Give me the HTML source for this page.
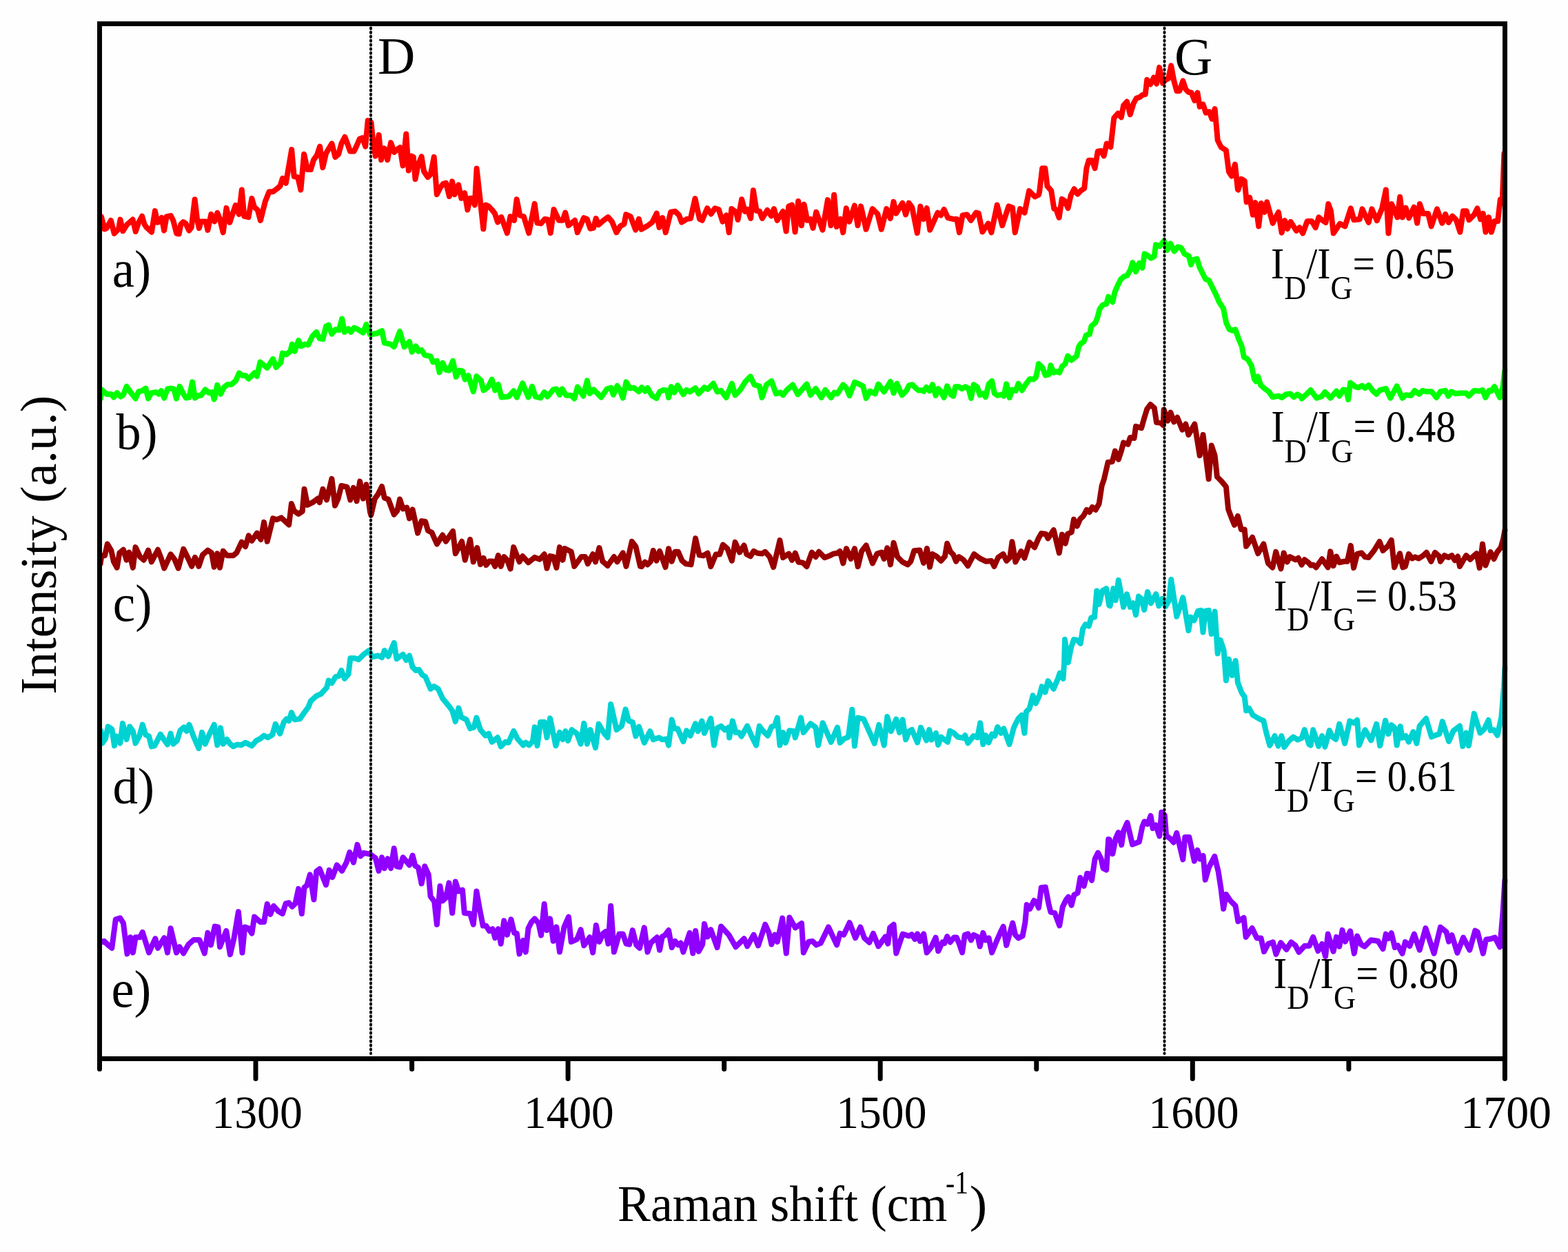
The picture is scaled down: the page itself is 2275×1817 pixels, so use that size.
<!DOCTYPE html>
<html><head><meta charset="utf-8"><style>html,body{margin:0;padding:0;background:#fefefe;}svg{display:block;}</style></head>
<body><svg width="2275" height="1817" viewBox="0 0 2275 1817">
<rect x="0" y="0" width="2275" height="1817" fill="#fefefe"/>
<path d="M145.6,332.5 L147.0,314.5 L151.8,332.5 L154.6,331.2 L160.9,320.0 L165.7,338.8 L172.0,332.5 L174.5,318.6 L178.3,335.3 L184.5,325.6 L188.0,322.8 L192.6,318.6 L196.8,336.0 L201.2,322.8 L206.1,313.8 L209.6,325.6 L212.4,329.8 L220.0,336.7 L224.9,306.1 L228.4,322.8 L231.8,321.4 L234.6,315.8 L238.1,334.6 L241.6,314.5 L247.8,313.1 L251.3,320.0 L256.2,338.8 L259.7,339.5 L262.4,325.6 L265.9,322.1 L269.4,324.2 L274.3,334.6 L277.8,329.8 L282.6,289.4 L286.1,318.6 L288.9,331.2 L291.7,321.4 L298.6,321.4 L301.4,333.9 L306.3,311.0 L311.2,321.4 L315.3,308.9 L318.8,317.2 L323.7,337.4 L328.5,301.9 L333.4,322.8 L337.6,310.3 L341.8,297.8 L346.6,311.0 L350.8,275.5 L354.3,313.8 L360.5,315.1 L365.4,288.0 L368.9,300.5 L373.8,304.7 L377.9,320.0 L384.9,292.2 L390.5,278.3 L396.0,278.3 L401.6,274.1 L406.5,269.9 L409.9,258.8 L414.8,265.8 L423.2,217.1 L426.6,256.0 L432.2,257.4 L436.4,275.5 L441.1,223.7 L446.0,246.0 L450.9,246.0 L455.0,232.1 L459.9,225.1 L464.1,212.6 L468.3,243.2 L473.1,222.4 L477.3,215.4 L481.5,208.4 L486.4,227.9 L491.2,223.7 L495.4,208.4 L500.3,198.7 L505.1,211.2 L507.9,219.6 L513.5,219.6 L517.0,212.6 L521.8,201.5 L526.0,200.1 L530.2,212.6 L533.7,175.0 L538.5,177.8 L541.3,205.7 L544.8,226.5 L549.7,195.9 L553.1,232.1 L557.3,215.4 L559.4,216.8 L562.2,232.1 L567.1,207.1 L571.9,221.0 L576.1,216.8 L580.3,214.0 L584.5,240.4 L589.3,194.5 L592.8,247.4 L597.0,226.5 L599.8,227.9 L602.5,259.9 L606.7,239.1 L611.6,227.2 L615.1,248.8 L620.6,257.1 L624.8,253.0 L629.7,227.9 L633.8,282.2 L638.7,272.4 L642.9,266.9 L647.1,265.5 L651.9,285.0 L656.1,263.4 L659.6,282.2 L665.2,268.3 L669.3,287.8 L674.2,280.1 L678.4,304.5 L681.9,287.8 L684.6,287.8 L688.8,297.5 L691.6,244.6 L695.8,282.2 L701.3,332.3 L704.8,297.5 L708.3,298.9 L713.9,304.5 L718.0,310.0 L722.2,322.5 L726.4,315.6 L727.4,315.1 L735.8,338.3 L740.4,314.2 L746.0,319.8 L749.7,289.2 L754.3,312.4 L759.9,314.2 L767.3,338.3 L775.7,295.7 L779.4,323.5 L784.9,324.4 L790.5,317.9 L795.1,318.8 L798.8,338.3 L803.5,304.0 L810.9,319.8 L816.5,319.8 L820.2,308.6 L824.8,327.2 L834.1,319.8 L837.8,337.4 L847.1,316.1 L851.7,317.9 L856.4,331.8 L861.0,330.9 L864.7,317.0 L868.4,326.3 L875.8,319.8 L882.3,315.1 L887.9,321.6 L894.4,337.4 L900.0,328.1 L905.5,325.3 L908.3,311.4 L914.8,314.2 L922.2,333.7 L926.9,317.9 L930.6,332.8 L938.9,328.1 L946.3,322.6 L952.8,309.6 L956.5,330.0 L961.2,316.1 L965.8,337.4 L973.2,307.7 L979.7,306.8 L985.3,312.4 L989.0,322.6 L996.4,317.9 L1002.0,317.0 L1008.5,288.2 L1015.0,317.9 L1018.7,319.8 L1026.1,302.2 L1031.7,310.5 L1037.3,302.2 L1042.8,304.0 L1048.4,321.6 L1054.0,312.4 L1057.7,337.4 L1061.4,303.1 L1067.9,307.7 L1070.6,318.8 L1076.2,289.2 L1080.9,306.8 L1084.6,304.0 L1089.2,317.0 L1092.9,276.2 L1097.6,305.9 L1102.2,306.8 L1105.9,317.0 L1113.3,304.9 L1118.9,313.3 L1123.0,303.1 L1127.6,319.8 L1136.0,306.8 L1140.6,335.5 L1144.3,299.4 L1149.0,297.5 L1153.6,336.5 L1158.2,291.9 L1162.9,327.2 L1166.6,296.6 L1171.2,319.8 L1175.9,317.9 L1179.6,330.9 L1184.2,307.7 L1193.5,333.7 L1200.9,290.1 L1205.5,327.2 L1210.2,282.7 L1213.9,329.1 L1219.5,317.9 L1223.2,337.4 L1227.8,302.2 L1232.4,321.6 L1239.9,298.4 L1244.5,327.2 L1249.1,299.4 L1256.6,332.8 L1265.8,303.1 L1273.3,310.5 L1278.8,332.8 L1286.3,303.1 L1291.8,317.0 L1296.5,292.9 L1300.2,309.6 L1309.4,294.7 L1314.1,311.4 L1318.7,294.7 L1323.4,301.2 L1330.8,338.3 L1335.4,299.4 L1340.1,317.9 L1344.7,302.2 L1349.3,333.7 L1360.5,308.6 L1365.1,312.4 L1369.7,304.0 L1375.3,316.1 L1382.7,317.9 L1388.3,317.9 L1392.0,337.4 L1396.6,312.4 L1403.1,311.4 L1408.7,319.8 L1416.1,308.6 L1419.8,309.6 L1425.4,336.5 L1433.7,324.4 L1438.4,337.4 L1446.7,297.5 L1454.2,327.2 L1463.4,299.4 L1469.0,301.2 L1472.7,337.4 L1480.1,303.1 L1486.6,308.6 L1493.1,277.1 L1501.5,285.5 L1507.0,282.7 L1508.1,278.4 L1512.2,244.2 L1516.3,244.2 L1519.5,270.2 L1525.2,276.7 L1529.3,302.8 L1532.5,304.4 L1536.6,315.8 L1540.7,288.9 L1544.7,291.4 L1549.6,302.0 L1553.7,283.3 L1558.5,274.3 L1563.4,281.6 L1568.3,276.7 L1573.2,273.5 L1576.4,244.2 L1579.7,232.8 L1584.6,232.8 L1588.6,244.2 L1592.7,219.8 L1597.6,219.0 L1601.6,226.3 L1605.7,208.5 L1611.4,213.3 L1616.3,171.1 L1622.0,164.6 L1626.8,170.2 L1630.1,153.2 L1635.0,147.5 L1639.8,166.2 L1644.7,149.9 L1648.8,142.6 L1653.7,141.0 L1657.7,137.7 L1661.8,136.9 L1664.2,115.8 L1669.1,122.3 L1674.0,112.5 L1678.0,121.5 L1682.1,97.9 L1687.0,120.7 L1691.1,115.8 L1695.1,114.1 L1699.2,95.4 L1703.3,117.4 L1707.3,132.0 L1711.4,132.0 L1716.3,117.4 L1720.3,129.6 L1724.4,133.7 L1728.5,134.5 L1733.3,145.9 L1737.4,134.5 L1740.7,154.8 L1745.5,151.5 L1749.6,163.7 L1754.5,162.1 L1758.5,172.7 L1762.6,158.0 L1766.7,203.6 L1771.5,213.3 L1778.9,218.2 L1782.9,249.1 L1787.0,255.6 L1791.9,238.5 L1795.9,275.1 L1796.5,275.5 L1801.1,259.8 L1805.8,262.6 L1808.6,293.2 L1813.2,286.7 L1817.8,311.7 L1821.5,294.1 L1826.2,328.4 L1829.9,295.0 L1834.5,308.0 L1838.2,293.2 L1846.6,323.8 L1854.9,308.0 L1859.6,337.7 L1864.2,320.1 L1867.9,332.1 L1872.6,321.9 L1880.9,334.9 L1885.5,330.3 L1890.2,338.6 L1896.7,321.0 L1903.2,321.0 L1908.7,330.3 L1913.4,315.4 L1918.0,319.1 L1923.6,322.9 L1927.3,296.0 L1931.0,306.2 L1934.7,338.6 L1944.0,324.7 L1951.4,328.4 L1959.8,302.4 L1964.4,319.1 L1972.7,318.2 L1976.5,303.4 L1985.7,322.9 L1990.4,303.4 L1997.8,320.1 L2005.2,302.4 L2010.8,275.5 L2014.5,338.6 L2019.1,296.0 L2027.5,315.4 L2031.2,285.8 L2034.9,315.4 L2039.5,301.5 L2044.2,316.4 L2051.6,300.6 L2056.2,323.8 L2059.9,296.0 L2064.6,309.9 L2072.0,309.9 L2076.6,328.4 L2085.0,303.4 L2092.4,323.8 L2097.1,310.8 L2101.7,322.9 L2107.3,313.6 L2112.8,319.1 L2118.4,336.8 L2123.0,306.2 L2127.7,306.2 L2131.4,319.1 L2138.8,311.7 L2143.4,302.4 L2148.1,318.2 L2151.8,309.9 L2155.5,336.8 L2160.1,315.4 L2163.8,336.8 L2168.5,321.0 L2173.1,321.0 L2176.8,289.5 L2179.6,295.0 L2182.4,222.7" fill="none" stroke="#ff0000" stroke-width="8.0" stroke-linejoin="round" stroke-linecap="round"/>
<path d="M145.9,578.4 L147.4,565.4 L154.8,571.9 L161.3,571.9 L165.0,576.6 L169.7,570.1 L175.3,575.6 L179.0,572.9 L183.6,560.8 L190.1,570.1 L196.6,578.4 L201.2,568.2 L205.9,567.3 L211.4,563.6 L215.1,578.4 L219.8,570.1 L226.3,569.1 L230.0,571.9 L233.7,567.3 L238.3,577.5 L243.0,564.5 L247.6,563.6 L252.2,564.5 L256.0,578.4 L260.6,560.8 L266.2,571.9 L269.9,577.5 L274.5,576.6 L279.1,554.3 L282.9,577.5 L288.4,573.8 L292.1,573.8 L297.7,565.4 L303.3,570.1 L307.9,569.1 L310.7,579.4 L315.3,558.9 L320.0,571.9 L325.5,561.7 L330.2,558.0 L335.7,558.0 L342.2,552.4 L346.9,541.3 L351.5,545.0 L356.1,545.0 L360.8,549.7 L369.1,541.3 L372.8,546.0 L377.5,525.5 L383.0,530.2 L387.7,533.9 L396.0,520.9 L400.7,533.0 L407.2,526.5 L409.9,512.6 L415.5,514.4 L421.1,509.8 L423.9,499.6 L427.6,509.8 L433.1,494.0 L436.8,502.4 L442.4,499.6 L447.1,500.5 L453.5,487.5 L459.1,481.9 L463.7,491.2 L468.4,492.2 L473.0,473.6 L476.7,471.7 L481.4,484.7 L486.9,478.2 L491.6,479.2 L496.2,462.5 L499.9,481.9 L505.5,477.3 L509.2,481.9 L513.8,475.5 L519.4,478.2 L526.8,482.9 L531.5,470.8 L537.0,485.7 L546.7,483.8 L554.1,480.1 L557.8,497.7 L567.1,499.6 L571.7,503.3 L580.1,481.0 L586.6,503.3 L594.0,495.9 L597.7,510.7 L603.3,502.4 L607.0,509.8 L611.6,507.9 L616.3,515.3 L624.6,517.2 L628.3,525.5 L633.9,523.7 L637.6,540.4 L642.2,526.5 L646.9,536.7 L651.5,537.6 L657.1,523.7 L661.7,546.9 L666.4,537.6 L671.0,538.5 L674.7,550.6 L679.4,545.0 L686.8,568.2 L691.4,546.0 L697.9,552.4 L701.6,566.4 L708.1,561.7 L713.7,550.6 L718.3,566.4 L722.9,558.0 L727.6,576.6 L737.8,575.6 L745.2,567.3 L749.9,576.6 L758.2,556.2 L766.5,576.6 L772.1,560.8 L776.8,575.6 L784.2,577.5 L789.7,569.1 L794.4,575.6 L802.7,565.4 L807.4,564.5 L812.0,572.9 L815.7,564.5 L821.3,573.8 L828.7,573.8 L833.3,578.4 L838.0,561.7 L846.3,574.7 L851.9,552.4 L855.6,571.0 L861.2,565.4 L872.3,576.6 L880.6,564.5 L886.2,562.7 L889.9,572.9 L895.5,559.9 L899.2,565.4 L903.8,577.5 L908.5,554.3 L914.0,563.6 L919.6,562.7 L927.0,568.2 L931.1,562.2 L935.8,567.7 L939.5,563.1 L946.0,574.2 L952.5,577.9 L957.1,568.6 L962.7,565.9 L968.2,566.8 L970.1,577.0 L973.8,561.2 L978.4,569.6 L983.1,559.4 L991.4,572.4 L996.1,565.9 L1000.7,568.6 L1009.1,563.1 L1013.7,571.4 L1022.0,562.2 L1026.7,564.9 L1035.0,556.6 L1040.6,568.6 L1046.2,566.8 L1053.6,577.0 L1061.9,556.6 L1066.6,573.3 L1074.0,565.9 L1081.4,553.8 L1088.8,546.4 L1094.4,558.4 L1101.8,560.3 L1105.5,577.0 L1112.0,558.4 L1119.4,552.9 L1125.9,571.4 L1132.4,569.6 L1136.1,573.3 L1141.7,565.9 L1150.1,558.4 L1157.5,572.4 L1170.5,557.5 L1176.0,573.3 L1183.5,564.0 L1191.8,577.0 L1197.4,565.9 L1205.7,577.0 L1210.4,569.6 L1215.0,571.4 L1223.3,558.4 L1228.0,563.1 L1232.6,574.2 L1240.0,554.7 L1246.5,557.5 L1252.1,560.3 L1256.7,577.9 L1262.3,567.7 L1269.7,571.4 L1274.4,557.5 L1282.7,568.6 L1292.0,553.8 L1296.6,570.5 L1301.3,556.6 L1308.7,573.3 L1315.2,566.8 L1318.9,559.4 L1323.6,558.2 L1328.9,563.5 L1332.6,566.5 L1337.9,566.5 L1340.2,568.0 L1344.0,561.9 L1348.5,567.2 L1353.0,558.2 L1357.6,574.0 L1361.3,564.2 L1365.1,568.0 L1369.6,577.0 L1374.2,560.4 L1379.5,572.5 L1383.2,574.8 L1386.2,561.2 L1390.8,561.2 L1395.3,564.2 L1400.6,561.2 L1405.1,563.5 L1408.9,577.8 L1412.7,558.2 L1418.0,561.9 L1421.7,573.3 L1426.3,571.0 L1430.0,576.3 L1434.6,557.4 L1439.1,552.9 L1442.9,571.0 L1447.4,574.0 L1452.7,572.5 L1456.5,574.8 L1460.2,557.4 L1464.8,577.0 L1468.5,565.7 L1473.8,567.2 L1477.6,556.7 L1482.9,566.5 L1487.4,558.9 L1494.2,549.9 L1499.5,550.6 L1503.3,546.8 L1507.0,528.0 L1512.3,533.3 L1516.8,544.6 L1522.1,543.1 L1524.4,530.2 L1528.9,540.8 L1533.5,539.3 L1537.2,540.8 L1541.0,531.7 L1545.5,528.0 L1549.3,516.6 L1554.6,522.7 L1562.1,516.6 L1565.2,503.1 L1568.2,498.5 L1572.7,495.5 L1575.7,486.5 L1581.0,484.9 L1583.3,473.6 L1589.3,468.3 L1592.3,460.8 L1595.4,448.7 L1599.9,442.7 L1605.2,441.2 L1608.2,430.6 L1608.8,431.9 L1614.3,438.2 L1617.4,424.1 L1621.4,414.7 L1626.1,405.3 L1630.8,401.4 L1635.5,399.8 L1640.2,391.2 L1643.3,381.0 L1648.0,394.3 L1652.7,381.8 L1657.4,388.8 L1660.6,368.4 L1665.3,370.8 L1670.0,374.7 L1674.7,372.3 L1677.0,355.1 L1682.5,357.4 L1688.8,349.6 L1693.5,362.9 L1698.2,353.5 L1703.7,364.5 L1709.2,358.2 L1713.9,359.8 L1718.6,368.4 L1724.9,371.6 L1728.0,384.1 L1731.1,377.0 L1736.6,375.5 L1740.5,388.0 L1746.0,399.0 L1749.2,405.3 L1753.9,406.8 L1759.4,417.8 L1764.1,427.2 L1768.8,438.2 L1775.0,447.6 L1779.0,468.0 L1783.7,478.2 L1788.4,479.8 L1792.3,478.2 L1797.0,491.5 L1801.7,502.5 L1804.8,518.2 L1810.3,521.3 L1815.8,530.7 L1819.7,549.6 L1822.1,553.5 L1825.2,546.4 L1829.2,559.0 L1834.6,563.7 L1840.9,568.4 L1846.4,576.2 L1855.0,574.6 L1859.7,577.0 L1866.0,572.3 L1872.3,571.5 L1877.0,576.2 L1882.5,572.3 L1888.0,576.2 L1888.6,578.4 L1894.4,573.3 L1901.6,566.1 L1910.2,577.6 L1917.4,575.5 L1922.4,569.0 L1930.3,577.6 L1939.0,567.6 L1943.3,574.8 L1949.0,565.4 L1953.3,566.1 L1956.2,579.8 L1959.1,555.4 L1966.3,561.1 L1970.6,562.5 L1976.3,559.7 L1980.6,563.3 L1985.7,559.0 L1992.2,567.6 L1997.2,571.9 L2002.2,566.1 L2010.8,564.0 L2017.3,577.6 L2026.7,560.4 L2034.6,577.6 L2039.6,573.3 L2047.5,574.0 L2052.5,566.9 L2059.0,571.9 L2064.0,566.9 L2069.8,568.3 L2077.0,568.3 L2084.2,576.9 L2089.9,568.3 L2097.1,566.9 L2101.4,574.8 L2105.7,568.3 L2111.5,571.2 L2118.7,570.5 L2127.3,570.5 L2130.9,574.8 L2138.8,566.9 L2146.0,567.6 L2151.0,566.1 L2155.3,576.9 L2160.4,566.9 L2163.3,567.6 L2168.3,561.1 L2176.2,576.9 L2180.5,561.8 L2183.4,537.4" fill="none" stroke="#00ff00" stroke-width="8.0" stroke-linejoin="round" stroke-linecap="round"/>
<path d="M145.6,818.2 L147.4,806.2 L152.1,806.2 L155.8,789.5 L161.3,798.7 L165.0,815.4 L169.7,823.8 L173.4,802.4 L179.0,797.8 L183.6,812.7 L187.3,801.5 L192.9,823.8 L196.6,794.1 L203.1,808.0 L208.6,812.7 L215.1,798.7 L219.8,815.4 L229.1,797.8 L233.7,809.9 L238.3,824.7 L247.6,804.3 L253.2,811.7 L258.7,824.7 L266.2,796.9 L272.7,809.9 L278.2,821.9 L282.9,808.9 L288.4,821.9 L294.0,805.2 L301.4,798.7 L307.0,802.4 L310.7,822.9 L315.3,803.4 L319.0,823.8 L323.7,799.7 L329.2,806.2 L338.5,806.2 L343.2,802.4 L350.6,786.7 L356.1,793.2 L360.8,777.4 L365.4,784.8 L372.8,773.7 L378.4,783.0 L383.0,757.9 L387.7,785.8 L396.0,752.4 L401.6,754.2 L408.1,751.4 L419.2,761.6 L422.9,731.0 L426.6,741.2 L433.1,745.9 L438.7,742.2 L441.5,709.7 L446.1,732.9 L453.5,729.2 L461.0,723.6 L463.7,729.2 L468.4,709.7 L474.0,725.5 L481.4,694.8 L486.0,733.8 L490.6,723.6 L495.3,705.0 L503.6,706.9 L508.3,725.5 L512.9,707.8 L517.6,727.3 L522.2,698.6 L526.8,723.6 L531.5,703.2 L537.0,743.1 L538.3,747.7 L543.9,723.6 L548.6,717.1 L554.1,706.0 L557.8,722.7 L563.4,724.5 L571.7,746.8 L576.4,741.2 L580.1,724.5 L584.7,738.4 L590.3,736.6 L594.0,752.4 L598.6,739.4 L606.1,773.7 L611.6,756.1 L617.2,757.0 L620.9,770.0 L626.5,772.8 L633.9,789.5 L642.2,776.5 L646.9,785.8 L657.1,770.9 L660.8,803.4 L670.1,785.8 L674.7,812.7 L682.1,783.0 L686.8,815.4 L692.3,795.0 L697.0,819.1 L701.6,809.9 L705.3,820.1 L710.0,814.5 L714.6,814.5 L718.3,821.9 L722.9,806.2 L726.7,821.9 L731.3,808.0 L735.9,812.7 L740.6,825.6 L745.2,794.1 L753.6,815.4 L758.2,807.1 L766.5,816.4 L775.8,808.9 L783.2,811.7 L789.7,804.3 L793.5,824.7 L798.1,807.1 L802.7,808.0 L807.4,823.8 L812.0,794.1 L816.6,812.7 L819.4,796.0 L828.7,800.6 L833.3,821.9 L843.5,808.0 L849.1,808.0 L852.8,818.2 L860.2,804.3 L864.0,815.4 L869.5,795.0 L874.2,814.5 L881.6,821.0 L890.9,808.0 L895.5,815.4 L903.8,802.4 L908.5,821.9 L916.8,785.8 L922.4,793.2 L928.9,821.9 L931.1,822.2 L935.8,815.7 L939.5,819.4 L944.1,814.7 L947.8,799.0 L952.5,813.8 L957.1,799.9 L965.5,823.1 L970.1,796.2 L974.7,814.7 L979.4,800.8 L984.0,800.8 L989.6,813.8 L995.1,818.4 L1002.6,819.4 L1009.1,781.3 L1014.6,805.5 L1020.2,806.4 L1026.7,802.7 L1031.3,822.2 L1038.7,804.5 L1044.3,804.5 L1048.9,790.6 L1055.4,796.2 L1061.9,813.8 L1066.6,786.9 L1073.1,801.7 L1079.6,791.5 L1083.3,804.5 L1088.8,807.3 L1093.5,799.9 L1099.0,802.7 L1105.5,803.6 L1110.2,800.8 L1116.7,808.2 L1122.2,823.1 L1131.5,784.1 L1136.1,809.2 L1144.5,803.6 L1149.1,812.9 L1153.8,802.7 L1158.4,815.7 L1164.9,816.6 L1170.5,822.2 L1177.9,801.7 L1183.5,808.2 L1188.1,800.8 L1196.4,809.2 L1203.9,806.4 L1209.4,803.6 L1215.0,802.7 L1218.7,799.9 L1223.3,817.5 L1228.0,796.2 L1234.5,811.0 L1240.0,796.2 L1244.7,822.2 L1250.2,799.9 L1256.7,791.5 L1266.0,817.5 L1272.5,803.6 L1279.0,801.7 L1282.7,811.0 L1287.3,795.3 L1292.0,819.4 L1296.6,787.8 L1302.2,808.2 L1309.6,815.7 L1317.0,819.4 L1321.4,814.7 L1326.3,799.3 L1334.4,798.5 L1340.1,817.2 L1345.0,796.0 L1349.0,822.8 L1353.1,804.1 L1358.8,807.4 L1365.3,813.9 L1371.0,807.4 L1374.2,788.7 L1379.1,800.9 L1383.2,805.0 L1387.2,814.7 L1391.3,808.2 L1397.8,812.3 L1404.3,821.2 L1413.3,804.1 L1422.2,810.7 L1430.3,814.7 L1438.5,813.9 L1442.5,822.0 L1448.2,809.0 L1455.5,804.1 L1460.4,813.9 L1465.3,809.0 L1468.5,786.3 L1473.4,815.5 L1481.5,800.1 L1486.4,809.8 L1493.7,787.1 L1501.1,794.4 L1506.7,781.4 L1510.8,774.1 L1517.3,774.9 L1520.6,781.4 L1528.7,769.2 L1536.8,802.5 L1540.9,775.7 L1545.8,788.7 L1549.0,774.9 L1554.7,772.4 L1558.0,753.7 L1562.8,763.5 L1566.9,753.7 L1571.8,748.9 L1576.7,739.9 L1580.7,743.2 L1584.8,735.9 L1589.7,739.9 L1594.6,731.0 L1598.6,705.0 L1601.9,695.2 L1607.6,670.8 L1608.1,670.8 L1613.8,670.0 L1617.9,654.6 L1622.8,666.7 L1626.8,654.6 L1630.1,642.4 L1636.6,644.8 L1639.8,635.0 L1645.5,635.9 L1648.0,618.8 L1656.1,621.2 L1660.2,606.6 L1664.2,593.6 L1669.1,587.1 L1674.8,592.0 L1678.0,613.1 L1684.6,613.9 L1687.8,617.2 L1688.6,594.4 L1694.3,610.7 L1698.4,598.5 L1703.3,612.3 L1708.1,605.8 L1715.4,623.7 L1720.3,615.5 L1724.4,631.0 L1733.3,615.5 L1740.7,661.1 L1745.5,631.0 L1753.7,695.2 L1757.7,646.4 L1762.6,661.1 L1765.9,692.0 L1772.4,698.5 L1778.9,706.6 L1782.1,739.1 L1787.0,752.1 L1791.1,761.9 L1795.9,748.9 L1800.8,768.4 L1805.7,768.4 L1808.1,792.8 L1817.1,779.8 L1825.2,803.3 L1833.3,789.5 L1839.8,817.2 L1846.3,823.7 L1851.2,800.9 L1858.5,825.3 L1862.6,802.5 L1867.5,815.5 L1871.5,808.2 L1879.7,812.3 L1883.7,809.8 L1888.6,819.6 L1892.7,812.3 L1899.2,817.2 L1901.6,820.5 L1905.2,819.8 L1909.5,823.4 L1918.1,811.2 L1926.7,823.4 L1930.3,800.4 L1934.6,821.2 L1939.0,807.6 L1943.3,816.2 L1950.5,814.8 L1954.8,814.8 L1959.8,791.8 L1964.1,824.1 L1969.1,804.0 L1975.6,802.5 L1980.6,808.3 L1985.7,809.0 L1993.6,799.0 L2001.5,786.0 L2006.5,799.0 L2013.7,792.5 L2018.8,783.9 L2023.1,823.4 L2031.0,803.3 L2035.3,823.4 L2038.9,822.0 L2043.9,804.0 L2048.9,810.5 L2053.3,808.3 L2058.3,810.5 L2064.0,806.9 L2069.8,801.8 L2076.3,814.8 L2082.0,801.8 L2087.8,806.9 L2089.9,814.8 L2095.7,806.1 L2101.4,809.0 L2106.5,806.1 L2110.8,813.3 L2115.1,807.6 L2118.0,822.0 L2127.3,806.1 L2133.1,811.9 L2137.4,807.6 L2142.4,803.3 L2146.7,824.1 L2151.0,789.6 L2155.3,820.5 L2162.5,801.1 L2167.6,811.2 L2171.9,801.8 L2177.6,794.6 L2181.2,781.7 L2183.4,769.5" fill="none" stroke="#990000" stroke-width="8.0" stroke-linejoin="round" stroke-linecap="round"/>
<path d="M145.6,1079.6 L146.5,1061.0 L148.3,1078.6 L153.0,1072.1 L156.7,1054.5 L162.3,1058.2 L166.0,1082.3 L168.8,1068.4 L171.5,1069.4 L174.3,1078.6 L178.0,1049.9 L183.6,1073.1 L188.2,1054.5 L192.9,1061.0 L196.6,1078.6 L202.2,1068.4 L206.8,1051.7 L211.4,1066.6 L216.1,1068.4 L219.8,1083.3 L224.4,1082.3 L232.8,1065.6 L238.3,1074.0 L243.0,1080.5 L247.6,1064.7 L251.3,1079.6 L256.9,1074.9 L261.5,1060.1 L267.1,1055.4 L270.8,1061.0 L274.5,1051.7 L281.0,1069.4 L288.4,1086.0 L293.1,1062.9 L297.7,1079.6 L303.3,1066.6 L310.7,1051.7 L315.3,1081.4 L320.0,1056.4 L323.7,1079.6 L329.2,1073.1 L333.9,1079.6 L338.5,1083.3 L344.1,1080.5 L349.6,1081.4 L356.1,1077.7 L365.4,1082.3 L371.9,1074.9 L377.5,1072.1 L383.0,1067.5 L388.6,1070.3 L395.1,1066.6 L399.7,1050.8 L406.2,1064.7 L411.8,1048.0 L415.5,1043.4 L419.2,1046.2 L422.9,1034.1 L427.6,1044.3 L435.0,1043.4 L441.5,1034.1 L447.1,1026.7 L450.8,1017.4 L459.1,1010.0 L465.6,1007.2 L474.0,997.9 L476.7,987.7 L481.4,991.4 L486.9,982.2 L491.6,981.2 L495.3,972.9 L499.9,984.9 L505.5,978.4 L508.3,955.3 L514.8,955.3 L520.3,957.1 L527.8,949.7 L535.2,944.1 L540.2,953.4 L548.6,951.5 L554.1,954.3 L557.8,944.1 L563.4,952.5 L571.7,933.0 L575.5,956.2 L584.7,949.7 L589.4,958.0 L594.0,951.5 L598.6,968.2 L603.3,972.9 L607.9,971.9 L612.6,979.4 L617.2,982.2 L624.6,999.8 L629.3,996.1 L635.8,999.8 L642.2,1013.7 L650.6,1023.9 L656.2,1031.3 L660.8,1047.1 L665.4,1027.6 L669.1,1040.6 L676.6,1044.3 L682.1,1057.3 L687.7,1055.4 L691.4,1041.5 L697.0,1059.1 L704.4,1067.5 L709.0,1064.7 L713.7,1076.8 L722.0,1070.3 L726.7,1083.3 L733.2,1076.8 L737.8,1077.7 L745.2,1061.0 L750.8,1072.1 L759.1,1081.4 L762.8,1077.7 L767.5,1081.4 L773.0,1075.8 L775.8,1055.4 L779.5,1082.3 L784.2,1048.0 L789.7,1048.0 L793.5,1070.3 L798.1,1042.4 L806.4,1082.3 L812.0,1062.9 L816.6,1073.1 L820.4,1061.0 L824.1,1074.9 L829.6,1059.1 L837.1,1064.7 L842.6,1079.6 L847.3,1049.9 L851.9,1079.6 L856.5,1059.1 L864.0,1085.1 L868.6,1050.8 L876.9,1064.7 L881.6,1070.3 L886.2,1022.0 L894.6,1059.1 L902.0,1053.6 L907.6,1029.5 L912.2,1046.2 L917.8,1048.0 L922.4,1068.4 L927.0,1054.5 L934.8,1077.9 L943.2,1061.2 L947.8,1073.3 L956.2,1070.5 L960.8,1073.3 L967.3,1072.4 L970.1,1081.6 L974.7,1044.5 L978.4,1057.5 L983.1,1057.5 L991.4,1076.1 L996.1,1060.3 L1001.6,1067.7 L1009.1,1050.1 L1012.8,1061.2 L1018.3,1046.4 L1022.0,1064.0 L1031.3,1042.7 L1036.0,1081.6 L1040.6,1056.6 L1046.2,1053.8 L1051.7,1059.4 L1057.3,1055.7 L1058.2,1070.5 L1062.9,1046.4 L1067.5,1063.1 L1072.1,1063.1 L1075.8,1068.6 L1084.2,1053.8 L1090.7,1068.6 L1097.2,1081.6 L1101.8,1053.8 L1107.4,1061.2 L1113.9,1067.7 L1119.4,1054.7 L1124.1,1052.9 L1127.8,1041.7 L1131.5,1081.6 L1136.1,1063.1 L1139.9,1077.9 L1145.4,1060.3 L1151.9,1061.2 L1153.8,1070.5 L1162.1,1041.7 L1165.8,1063.1 L1176.0,1050.1 L1183.5,1055.7 L1187.2,1081.6 L1193.7,1049.2 L1205.7,1077.0 L1215.0,1055.7 L1218.7,1077.9 L1224.3,1072.4 L1230.8,1069.6 L1236.3,1029.7 L1240.0,1082.6 L1244.7,1041.7 L1253.0,1043.6 L1261.4,1062.2 L1268.8,1078.8 L1275.3,1051.9 L1282.7,1081.6 L1287.3,1039.9 L1292.9,1061.2 L1300.3,1043.6 L1305.0,1063.1 L1309.6,1044.5 L1314.2,1073.3 L1318.9,1061.2 L1323.0,1059.0 L1331.1,1077.7 L1336.0,1055.8 L1344.1,1074.5 L1348.2,1059.0 L1351.5,1073.7 L1358.0,1063.9 L1361.2,1081.0 L1365.3,1069.6 L1375.0,1076.9 L1378.3,1060.7 L1384.0,1063.9 L1389.7,1069.6 L1397.8,1071.2 L1400.2,1067.2 L1404.3,1078.5 L1412.4,1068.0 L1418.1,1070.4 L1422.2,1049.3 L1426.3,1080.2 L1430.3,1067.2 L1434.4,1077.7 L1439.3,1065.5 L1443.3,1068.0 L1447.4,1055.0 L1452.3,1063.9 L1456.3,1057.4 L1464.5,1080.2 L1471.0,1055.8 L1477.5,1042.8 L1482.4,1037.9 L1486.4,1063.9 L1488.9,1033.0 L1493.7,1028.1 L1498.6,1009.4 L1502.7,1020.8 L1508.4,1008.6 L1511.6,996.4 L1516.5,1004.6 L1520.6,988.3 L1528.7,999.7 L1535.2,984.2 L1537.6,976.9 L1542.5,985.0 L1544.1,961.5 L1545.0,928.1 L1549.8,961.5 L1553.9,940.3 L1558.0,928.1 L1562.8,928.9 L1567.7,933.8 L1571.0,912.7 L1575.0,906.2 L1579.9,908.6 L1583.2,896.4 L1588.0,895.6 L1591.3,857.4 L1594.6,876.9 L1599.4,857.4 L1605.1,854.1 L1609.2,878.5 L1610.6,879.3 L1615.4,854.1 L1618.7,871.2 L1622.8,842.0 L1630.1,881.0 L1635.0,862.3 L1639.8,881.0 L1643.9,875.3 L1648.0,892.4 L1652.0,865.5 L1656.1,868.8 L1660.2,885.0 L1665.0,859.0 L1669.9,875.3 L1677.2,862.3 L1681.3,879.3 L1686.2,868.8 L1691.1,880.2 L1695.9,872.0 L1699.2,841.1 L1707.3,894.8 L1716.3,867.2 L1724.4,915.1 L1727.6,895.6 L1732.5,900.5 L1738.2,886.7 L1742.3,885.9 L1745.5,917.6 L1748.8,886.7 L1753.7,885.9 L1757.7,920.0 L1762.6,887.5 L1765.0,924.1 L1766.7,948.5 L1770.7,928.9 L1775.6,943.6 L1778.9,987.5 L1782.9,956.6 L1787.8,980.2 L1792.7,959.0 L1795.9,990.7 L1801.6,1005.4 L1805.7,1011.1 L1808.1,1031.4 L1812.2,1028.1 L1817.9,1037.9 L1827.6,1043.6 L1833.3,1046.0 L1837.4,1063.9 L1842.3,1081.8 L1849.6,1068.0 L1854.5,1082.6 L1859.3,1068.0 L1863.4,1084.2 L1869.9,1075.3 L1876.4,1069.6 L1882.9,1073.7 L1888.6,1071.2 L1892.7,1059.0 L1899.2,1080.2 L1901.6,1081.6 L1905.2,1059.3 L1913.1,1083.1 L1918.1,1068.0 L1922.4,1083.8 L1928.9,1060.1 L1933.2,1069.4 L1938.2,1073.0 L1943.3,1050.7 L1951.2,1078.8 L1958.4,1046.4 L1964.8,1049.3 L1969.1,1045.0 L1972.0,1081.6 L1980.6,1059.3 L1989.3,1074.4 L1997.2,1050.7 L2002.2,1082.3 L2010.1,1045.7 L2014.4,1065.1 L2018.8,1052.2 L2023.8,1056.5 L2026.7,1081.6 L2031.7,1054.3 L2034.6,1070.8 L2039.6,1068.0 L2043.9,1076.6 L2050.4,1062.2 L2055.4,1078.8 L2059.7,1053.6 L2069.1,1042.8 L2077.0,1069.4 L2084.2,1066.5 L2088.5,1065.1 L2092.8,1047.1 L2102.1,1075.9 L2108.6,1060.8 L2118.0,1053.6 L2122.3,1083.1 L2127.3,1063.7 L2130.9,1082.3 L2138.8,1035.6 L2147.4,1063.7 L2153.2,1058.6 L2159.7,1045.0 L2162.5,1060.1 L2167.6,1059.3 L2172.6,1067.2 L2178.4,1040.6 L2181.9,997.5 L2183.4,968.8" fill="none" stroke="#00d2d2" stroke-width="8.0" stroke-linejoin="round" stroke-linecap="round"/>
<path d="M145.6,1367.7 L151.1,1365.8 L156.7,1371.4 L162.3,1376.0 L167.8,1334.3 L174.3,1332.4 L179.0,1339.9 L184.5,1384.4 L189.2,1360.3 L192.9,1382.5 L196.6,1360.3 L203.1,1360.3 L206.8,1352.9 L216.1,1382.5 L225.3,1362.1 L229.1,1376.0 L238.3,1361.2 L243.0,1382.5 L247.6,1347.3 L256.0,1382.5 L260.6,1374.2 L266.2,1383.5 L273.6,1370.5 L281.0,1364.0 L289.4,1364.0 L296.8,1383.5 L301.4,1353.8 L306.0,1371.4 L311.6,1344.5 L316.3,1345.4 L319.0,1374.2 L328.3,1351.0 L333.9,1385.3 L339.4,1362.1 L345.9,1323.2 L351.5,1382.5 L355.2,1345.4 L360.8,1347.3 L365.4,1354.7 L369.1,1330.6 L377.5,1338.0 L383.0,1338.0 L387.7,1312.0 L392.3,1326.9 L397.0,1314.8 L403.5,1322.2 L409.9,1326.0 L414.6,1311.1 L419.2,1310.2 L423.9,1315.8 L428.5,1311.1 L433.1,1289.8 L437.8,1326.0 L441.5,1287.9 L445.2,1285.1 L449.8,1269.4 L455.4,1305.5 L459.1,1264.7 L463.7,1261.0 L473.0,1284.2 L477.7,1262.9 L482.3,1273.1 L488.8,1255.5 L496.2,1263.8 L502.7,1251.7 L507.3,1236.9 L512.9,1251.7 L518.5,1225.8 L523.1,1242.5 L527.8,1237.8 L537.0,1239.7 L544.8,1245.3 L549.5,1263.8 L554.1,1244.3 L557.8,1260.1 L562.5,1246.2 L567.1,1260.1 L571.7,1231.3 L575.5,1257.3 L580.1,1258.2 L584.7,1244.3 L594.0,1255.5 L598.6,1241.5 L602.4,1256.4 L607.0,1259.2 L611.6,1282.4 L616.3,1257.3 L621.8,1269.4 L624.6,1300.9 L630.2,1308.3 L633.9,1341.7 L638.5,1286.1 L642.2,1307.4 L646.9,1302.8 L651.5,1281.4 L656.2,1325.0 L660.8,1279.6 L665.4,1293.5 L671.0,1291.6 L673.8,1325.0 L682.1,1326.0 L686.8,1341.7 L691.4,1293.5 L696.0,1319.5 L700.7,1343.6 L705.3,1343.6 L710.0,1351.0 L714.6,1348.2 L718.3,1361.2 L722.9,1348.2 L726.7,1369.6 L731.3,1336.2 L735.9,1356.6 L741.5,1334.3 L746.1,1353.8 L749.9,1354.7 L753.6,1384.4 L759.1,1364.9 L762.8,1381.6 L766.5,1347.3 L771.2,1338.0 L775.8,1333.4 L781.4,1339.9 L785.1,1357.5 L789.7,1312.0 L793.5,1350.1 L798.1,1333.4 L802.7,1365.8 L807.4,1345.4 L812.0,1381.6 L818.5,1345.4 L825.0,1330.6 L828.7,1366.8 L837.1,1363.1 L842.6,1349.1 L847.3,1372.3 L855.6,1360.3 L860.2,1382.5 L864.9,1342.7 L869.5,1366.8 L875.1,1354.7 L878.8,1351.9 L882.5,1369.6 L886.2,1314.8 L890.9,1381.6 L898.3,1355.6 L903.8,1355.6 L908.5,1369.6 L913.1,1370.5 L917.8,1350.1 L923.3,1371.4 L928.0,1376.0 L934.8,1346.4 L939.5,1381.6 L944.1,1368.6 L953.4,1360.3 L957.1,1378.8 L960.8,1359.4 L964.5,1357.5 L970.1,1350.1 L974.7,1375.1 L979.4,1365.9 L984.0,1371.4 L987.7,1368.6 L991.4,1381.6 L1000.7,1353.8 L1005.3,1383.5 L1009.1,1351.0 L1013.7,1380.7 L1019.3,1370.5 L1022.0,1340.8 L1026.7,1359.4 L1031.3,1349.2 L1040.6,1375.1 L1046.2,1344.5 L1057.3,1356.6 L1067.5,1374.2 L1079.6,1362.2 L1084.2,1373.3 L1093.5,1356.6 L1100.0,1372.4 L1110.2,1341.7 L1115.7,1353.8 L1119.4,1370.5 L1124.1,1356.6 L1127.8,1366.8 L1135.2,1332.5 L1140.8,1383.5 L1145.4,1331.5 L1153.8,1346.4 L1163.0,1339.9 L1165.8,1382.6 L1173.2,1366.8 L1178.8,1365.9 L1184.4,1371.4 L1190.9,1368.6 L1202.0,1345.5 L1214.1,1371.4 L1218.7,1354.7 L1224.3,1356.6 L1232.6,1339.0 L1241.0,1361.2 L1248.4,1345.5 L1254.0,1361.2 L1261.4,1367.7 L1266.9,1354.7 L1274.4,1373.3 L1284.6,1359.4 L1288.3,1369.6 L1291.1,1346.4 L1296.6,1341.7 L1300.3,1383.5 L1309.6,1355.7 L1318.9,1358.4 L1322.8,1356.1 L1327.4,1362.9 L1331.1,1355.3 L1334.9,1365.9 L1340.2,1355.3 L1344.7,1382.5 L1350.8,1375.0 L1357.6,1360.6 L1361.3,1380.2 L1367.4,1367.4 L1370.4,1368.9 L1374.2,1359.1 L1378.7,1367.4 L1384.0,1360.6 L1387.8,1360.6 L1391.5,1368.9 L1396.1,1382.5 L1399.8,1356.8 L1404.4,1355.3 L1408.9,1364.4 L1412.7,1356.8 L1418.7,1359.9 L1421.7,1373.5 L1426.3,1353.8 L1430.0,1364.4 L1434.6,1361.4 L1439.1,1382.5 L1445.9,1365.9 L1451.9,1352.3 L1455.7,1344.8 L1460.2,1371.9 L1469.3,1339.5 L1473.1,1356.8 L1477.6,1361.4 L1483.6,1358.4 L1487.4,1338.7 L1489.7,1313.1 L1494.2,1319.1 L1500.2,1307.0 L1504.0,1310.0 L1507.0,1317.6 L1510.8,1288.1 L1516.8,1287.4 L1521.4,1311.6 L1524.4,1323.6 L1530.4,1325.1 L1537.2,1343.3 L1541.8,1316.1 L1547.0,1305.5 L1550.1,1301.7 L1554.6,1313.8 L1558.4,1298.7 L1563.6,1295.7 L1567.4,1273.8 L1572.7,1285.9 L1577.2,1267.8 L1581.0,1268.5 L1584.0,1277.6 L1588.6,1246.6 L1593.1,1237.6 L1597.6,1246.6 L1600.6,1260.2 L1605.2,1262.5 L1608.2,1217.9 L1609.8,1218.7 L1614.3,1239.1 L1618.9,1216.4 L1622.6,1208.1 L1627.2,1226.2 L1630.2,1205.9 L1635.5,1193.8 L1643.0,1225.5 L1652.8,1221.7 L1657.4,1199.8 L1660.4,1192.3 L1664.9,1196.0 L1669.5,1184.0 L1672.5,1202.1 L1677.0,1197.6 L1682.3,1213.4 L1685.3,1178.7 L1689.8,1183.2 L1692.1,1212.7 L1698.1,1217.2 L1702.7,1222.5 L1707.2,1208.9 L1716.3,1247.4 L1719.3,1214.9 L1725.3,1214.9 L1732.9,1249.6 L1737.4,1233.8 L1741.2,1246.6 L1745.7,1242.1 L1748.7,1276.8 L1754.0,1258.7 L1762.3,1242.9 L1767.6,1264.7 L1771.4,1288.9 L1775.1,1319.1 L1778.9,1298.0 L1785.0,1307.0 L1792.5,1314.6 L1796.3,1337.2 L1804.6,1331.9 L1807.6,1359.9 L1816.7,1347.0 L1823.5,1361.4 L1829.5,1361.4 L1834.0,1381.0 L1840.1,1369.7 L1846.9,1367.4 L1851.4,1384.8 L1858.2,1368.2 L1866.5,1378.0 L1873.3,1367.4 L1879.3,1371.9 L1884.6,1381.8 L1892.9,1372.7 L1899.7,1372.7 L1905.2,1359.9 L1912.4,1380.1 L1918.1,1370.0 L1923.1,1388.0 L1926.7,1355.6 L1934.6,1380.8 L1939.0,1359.9 L1943.3,1373.6 L1947.6,1349.9 L1951.9,1366.4 L1959.1,1351.3 L1964.8,1383.7 L1969.1,1358.5 L1974.9,1370.7 L1979.9,1373.6 L1989.3,1364.2 L1999.3,1365.7 L2006.5,1377.2 L2010.8,1355.6 L2014.4,1362.1 L2018.8,1354.2 L2023.8,1375.0 L2028.1,1372.2 L2034.6,1383.7 L2038.9,1367.1 L2045.4,1372.9 L2051.8,1355.6 L2059.7,1378.6 L2068.4,1347.0 L2080.6,1383.7 L2089.9,1345.6 L2098.6,1352.7 L2102.1,1366.4 L2106.5,1357.1 L2114.4,1382.9 L2123.0,1360.6 L2132.3,1378.6 L2140.3,1350.6 L2143.8,1352.7 L2151.8,1383.7 L2156.1,1363.5 L2161.8,1362.8 L2169.0,1360.6 L2176.2,1374.3 L2180.5,1324.7 L2183.4,1277.3" fill="none" stroke="#8f00ff" stroke-width="8.0" stroke-linejoin="round" stroke-linecap="round"/>
<line x1="538" y1="40.5" x2="538" y2="1529" stroke="#000" stroke-width="4" stroke-linecap="round" stroke-dasharray="1.2 4.8"/>
<line x1="1689.5" y1="40.5" x2="1689.5" y2="1529" stroke="#000" stroke-width="4" stroke-linecap="round" stroke-dasharray="1.2 4.8"/>
<rect x="144.5" y="34.5" width="2039" height="1502" fill="none" stroke="#000" stroke-width="7"/>
<line x1="144.5" y1="1537" x2="144.5" y2="1551.5" stroke="#000" stroke-width="7" stroke-linecap="round"/>
<line x1="371.0" y1="1537" x2="371.0" y2="1565.5" stroke="#000" stroke-width="7" stroke-linecap="round"/>
<line x1="597.6" y1="1537" x2="597.6" y2="1551.5" stroke="#000" stroke-width="7" stroke-linecap="round"/>
<line x1="824.1" y1="1537" x2="824.1" y2="1565.5" stroke="#000" stroke-width="7" stroke-linecap="round"/>
<line x1="1050.7" y1="1537" x2="1050.7" y2="1551.5" stroke="#000" stroke-width="7" stroke-linecap="round"/>
<line x1="1277.2" y1="1537" x2="1277.2" y2="1565.5" stroke="#000" stroke-width="7" stroke-linecap="round"/>
<line x1="1503.8" y1="1537" x2="1503.8" y2="1551.5" stroke="#000" stroke-width="7" stroke-linecap="round"/>
<line x1="1730.3" y1="1537" x2="1730.3" y2="1565.5" stroke="#000" stroke-width="7" stroke-linecap="round"/>
<line x1="1956.9" y1="1537" x2="1956.9" y2="1551.5" stroke="#000" stroke-width="7" stroke-linecap="round"/>
<line x1="2183.4" y1="1537" x2="2183.4" y2="1565.5" stroke="#000" stroke-width="7" stroke-linecap="round"/>
<g transform="translate(307.26,1636.82) scale(0.9397,0.9771)"><text x="0" y="0" font-family="Liberation Serif, Times New Roman, serif" font-size="70">1300</text></g>
<g transform="translate(759.99,1636.73) scale(0.9344,0.9729)"><text x="0" y="0" font-family="Liberation Serif, Times New Roman, serif" font-size="70">1400</text></g>
<g transform="translate(1213.22,1636.73) scale(0.9382,0.9729)"><text x="0" y="0" font-family="Liberation Serif, Times New Roman, serif" font-size="70">1500</text></g>
<g transform="translate(1666.32,1636.73) scale(0.9382,0.9729)"><text x="0" y="0" font-family="Liberation Serif, Times New Roman, serif" font-size="70">1600</text></g>
<g transform="translate(2119.25,1636.53) scale(0.9412,0.9729)"><text x="0" y="0" font-family="Liberation Serif, Times New Roman, serif" font-size="70">1700</text></g>
<g transform="translate(896.01,1772.36) scale(0.9446,0.9714)"><text x="0" y="0" font-family="Liberation Serif, Times New Roman, serif" font-size="76">Raman shift (cm</text></g>
<g transform="translate(1372.03,1732.20) scale(0.8848,1.0448)"><text x="0" y="0" font-family="Liberation Serif, Times New Roman, serif" font-size="45">-1</text></g>
<g transform="translate(1406.78,1772.13) scale(1.0100,0.9855)"><text x="0" y="0" font-family="Liberation Serif, Times New Roman, serif" font-size="76">)</text></g>
<g transform="translate(81.06,1007.72) scale(0.9841,0.9747)"><text x="0" y="0" font-family="Liberation Serif, Times New Roman, serif" font-size="76" transform="rotate(-90)">Intensity (a.u.)</text></g>
<g transform="translate(547.90,106.80) scale(1.0020,1.0143)"><text x="0" y="0" font-family="Liberation Serif, Times New Roman, serif" font-size="75">D</text></g>
<g transform="translate(1703.94,107.78) scale(1.0204,1.0176)"><text x="0" y="0" font-family="Liberation Serif, Times New Roman, serif" font-size="75">G</text></g>
<g transform="translate(162.69,416.37) scale(0.9692,1.0288)"><text x="0" y="0" font-family="Liberation Serif, Times New Roman, serif" font-size="75">a)</text></g>
<g transform="translate(168.40,651.85) scale(0.9627,0.9971)"><text x="0" y="0" font-family="Liberation Serif, Times New Roman, serif" font-size="75">b)</text></g>
<g transform="translate(163.78,901.30) scale(0.9731,1.0136)"><text x="0" y="0" font-family="Liberation Serif, Times New Roman, serif" font-size="75">c)</text></g>
<g transform="translate(163.38,1165.71) scale(0.9732,0.9868)"><text x="0" y="0" font-family="Liberation Serif, Times New Roman, serif" font-size="75">d)</text></g>
<g transform="translate(161.41,1460.70) scale(0.9962,1.0197)"><text x="0" y="0" font-family="Liberation Serif, Times New Roman, serif" font-size="75">e)</text></g>
<g transform="translate(1844.08,404.21) scale(0.9623,1.0567)"><text x="0" y="0" font-family="Liberation Serif, Times New Roman, serif" font-size="60">I<tspan dy="28" font-size="46">D</tspan><tspan dy="-28">/I</tspan><tspan dy="28" font-size="46">G</tspan><tspan dy="-28">= 0.65</tspan></text></g>
<g transform="translate(1844.16,640.67) scale(0.9689,1.0761)"><text x="0" y="0" font-family="Liberation Serif, Times New Roman, serif" font-size="60">I<tspan dy="28" font-size="46">D</tspan><tspan dy="-28">/I</tspan><tspan dy="28" font-size="46">G</tspan><tspan dy="-28">= 0.48</tspan></text></g>
<g transform="translate(1847.98,885.85) scale(0.9601,1.0552)"><text x="0" y="0" font-family="Liberation Serif, Times New Roman, serif" font-size="60">I<tspan dy="28" font-size="46">D</tspan><tspan dy="-28">/I</tspan><tspan dy="28" font-size="46">G</tspan><tspan dy="-28">= 0.53</tspan></text></g>
<g transform="translate(1847.78,1147.62) scale(0.9598,1.0672)"><text x="0" y="0" font-family="Liberation Serif, Times New Roman, serif" font-size="60">I<tspan dy="28" font-size="46">D</tspan><tspan dy="-28">/I</tspan><tspan dy="28" font-size="46">G</tspan><tspan dy="-28">= 0.61</tspan></text></g>
<g transform="translate(1847.76,1434.42) scale(0.9700,1.0672)"><text x="0" y="0" font-family="Liberation Serif, Times New Roman, serif" font-size="60">I<tspan dy="28" font-size="46">D</tspan><tspan dy="-28">/I</tspan><tspan dy="28" font-size="46">G</tspan><tspan dy="-28">= 0.80</tspan></text></g>
</svg></body></html>
